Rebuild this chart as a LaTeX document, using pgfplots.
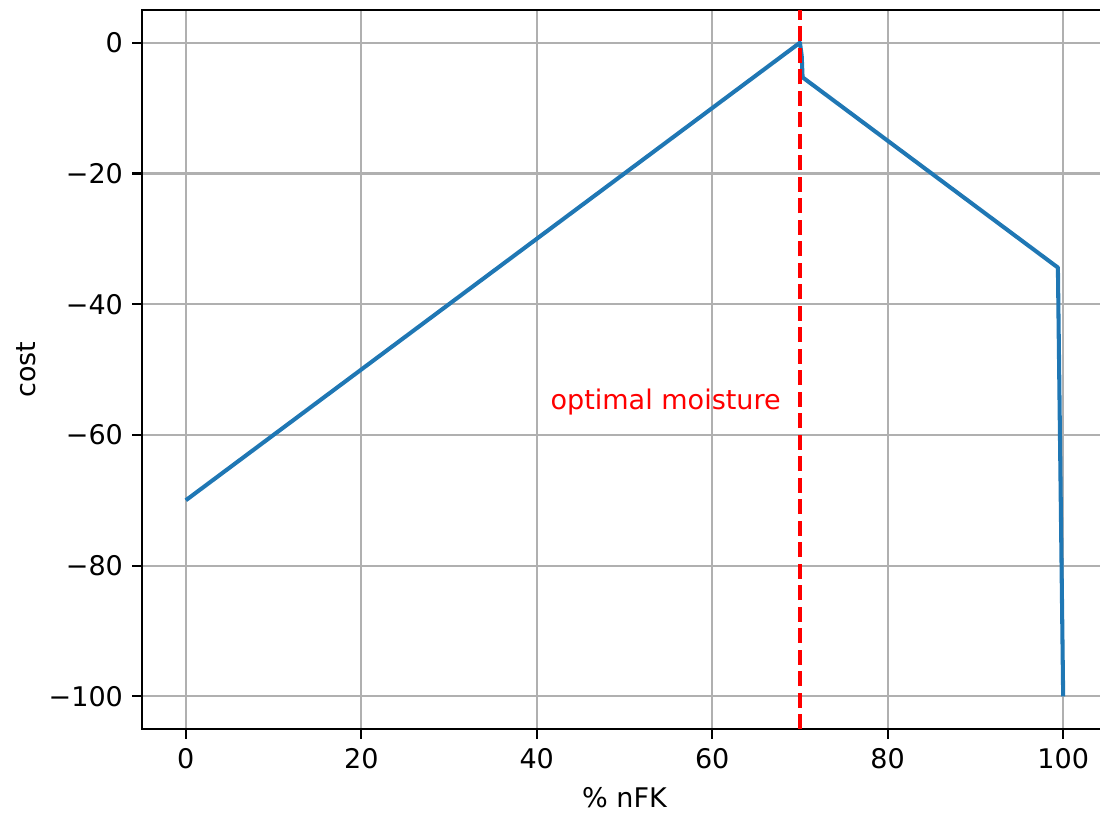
\documentclass[border=0pt]{standalone}
\usepackage{pgfplots}
\pgfplotsset{compat=1.18}
\usepackage{fontspec}
\setmainfont{DejaVu Sans}
\definecolor{mplblue}{HTML}{1F77B4}
\definecolor{mplgrid}{HTML}{B0B0B0}
\begin{document}
\begin{tikzpicture}
\begin{axis}[
  scale only axis,
  width=357pt, height=266pt,
  xmin=-5, xmax=105, ymin=-105, ymax=5,
  xtick={0,20,40,60,80,100},
  ytick={-100,-80,-60,-40,-20,0},
  yticklabels={−100,−80,−60,−40,−20,0},
  xticklabels={0,20,40,60,80,100},
  tick align=outside, xtick pos=bottom, ytick pos=left,
  major tick length=3.5pt,
  every tick/.style={black, line width=0.8pt},
  axis line style={line width=0.8pt},
  grid=major,
  major grid style={mplgrid, line width=0.8pt},
  tick label style={font=\fontsize{10}{12}\selectfont},
  label style={font=\fontsize{10}{12}\selectfont},
  xlabel={\% nFK}, ylabel={cost},
  xlabel style={yshift=0pt},
  ylabel style={yshift=-2pt},
  clip=false,
]
\addplot[mplblue, line width=1.5pt, line join=round] coordinates {
  (0,-70) (70,0) (70.2,-2) (70.3,-5.3) (99.4,-34.4) (100,-100)
};
\addplot[red, line width=1.5pt, dash pattern=on 5.55pt off 2.4pt] coordinates {(70,-105) (70,5)};
\node[red, anchor=east, font=\fontsize{10}{12}\selectfont] at (axis cs:68.9,-55) {optimal moisture};
\coordinate (ll) at (rel axis cs:0,0);
\coordinate (ur) at (rel axis cs:1,1);
\end{axis}
\pgfresetboundingbox
\path[use as bounding box] ([xshift=-52.5pt,yshift=-30.7pt]ll) rectangle ([xshift=-2.6pt,yshift=3.7pt]ur);
\end{tikzpicture}
\end{document}
